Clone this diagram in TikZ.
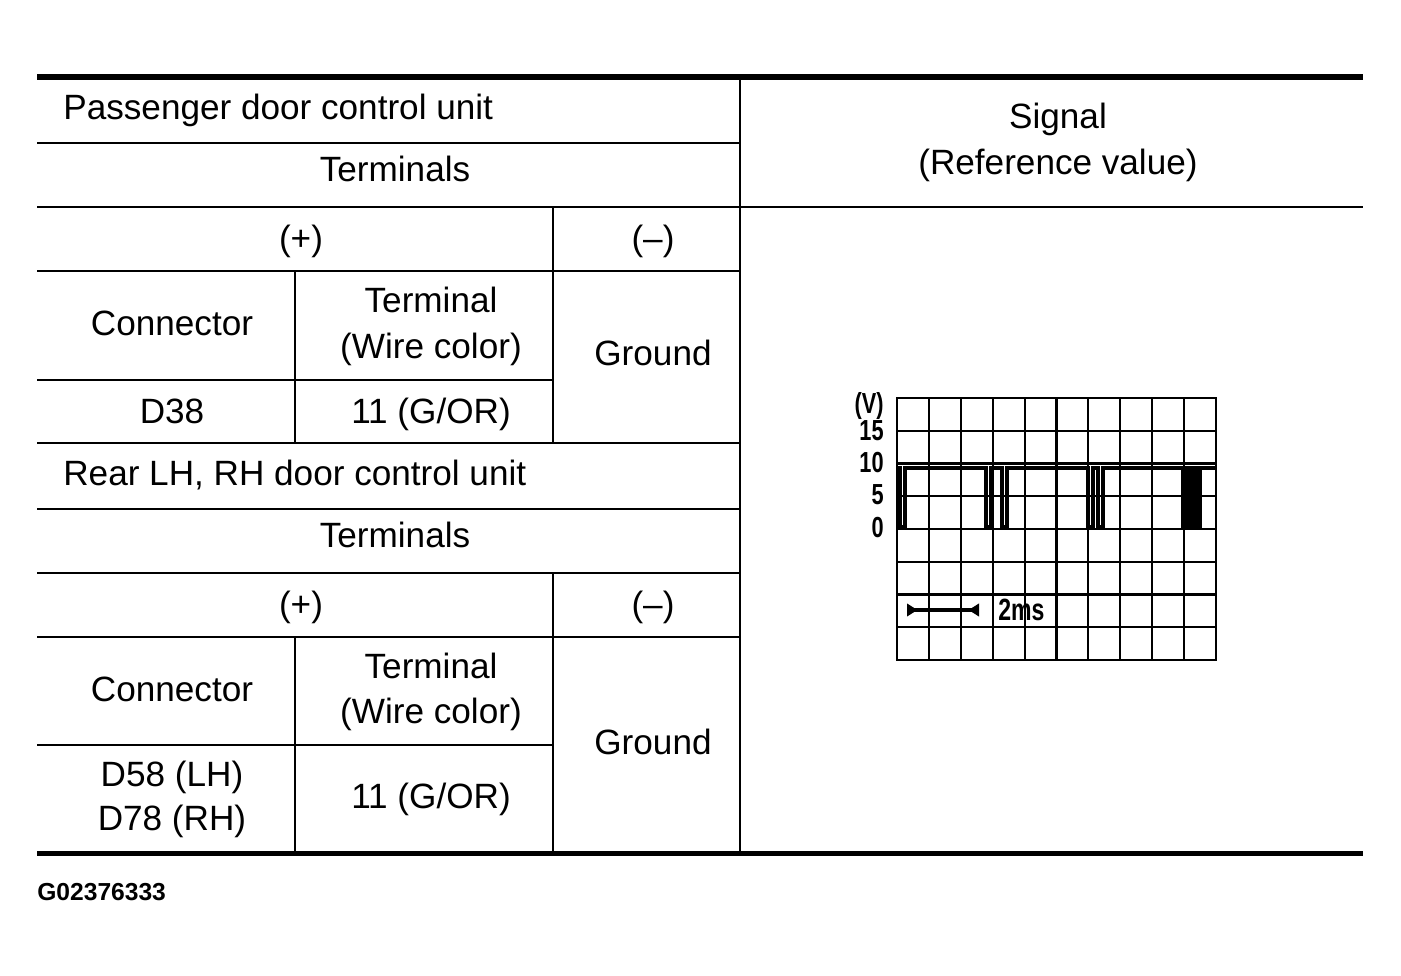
\documentclass[tikz,border=0pt]{standalone}
\usepackage{fontspec}
\setmainfont{Liberation Sans}
\newfontfamily\narrowsans[FakeStretch=0.75]{Liberation Sans Bold}
\usetikzlibrary{positioning}
\usetikzlibrary{arrows.meta}

\begin{document}
\begin{tikzpicture}
		[x=0.02cm, y=-0.02cm,
		cell/.style={font=\fontsize{20}{25}\selectfont, inner sep=0pt, text height=14.3pt, text depth=0pt},
		rule/.style={line width=1.15pt},
		heavy/.style={line width=3.2pt},
		gridline/.style={line width=1.15pt},
		volts/.style={font=\narrowsans\fontsize{16.5}{16.5}\selectfont, inner sep=0pt, text height=11.8pt, text depth=0pt, anchor=east},
		wave/.style={line width=1.8pt, line join=miter}]
		\useasboundingbox (0,0) rectangle (1401,976);

		\draw[heavy] (37,77) -- (1363,77);
		\draw[heavy] (37,853.5) -- (1363,853.5);
		\draw[rule] (37,207) -- (1363,207);
		\foreach \y in {143,271,443,509,573,637}
			\draw[rule] (37,\y) -- (740,\y);
		\foreach \y in {380,745}
			\draw[rule] (37,\y) -- (553,\y);
		\draw[rule] (740,77) -- (740,853.5);
		\draw[rule] (553,207) -- (553,443);
		\draw[rule] (553,573) -- (553,853.5);
		\draw[rule] (295,271) -- (295,443);
		\draw[rule] (295,637) -- (295,853.5);

		\node[cell, anchor=west] (pass) at (63,106.5) {Passenger door control unit};
		\node[cell] (term1) at (395,169) {Terminals};
		\node[cell] (plus1) at (301,238) {(+)};
		\node[cell] (minus1) at (653,238) {(–)};
		\node[cell] (conn1) at (172,323) {Connector};
		\node[cell] (termno1) at (431,300) {Terminal};
		\node[cell] (wire1) at (431,346) {(Wire color)};
		\node[cell] (gnd1) at (653,353) {Ground};
		\node[cell] (d38) at (172,411) {D38};
		\node[cell] (pin1) at (431,411) {11 (G/OR)};

		\node[cell, anchor=west] (rear) at (63,472.5) {Rear LH, RH door control unit};
		\node[cell] (term2) at (395,535) {Terminals};
		\node[cell] (plus2) at (301,604) {(+)};
		\node[cell] (minus2) at (653,604) {(–)};
		\node[cell] (conn2) at (172,689) {Connector};
		\node[cell] (termno2) at (431,666) {Terminal};
		\node[cell] (wire2) at (431,711) {(Wire color)};
		\node[cell] (gnd2) at (653,742) {Ground};
		\node[cell] (d58) at (172,774) {D58 (LH)};
		\node[cell] (d78) at (172,818) {D78 (RH)};
		\node[cell] (pin2) at (431,796) {11 (G/OR)};

		\node[cell] (signal) at (1058,115.5) {Signal};
		\node[cell] (refval) at (1058,161.5) {(Reference value)};

		\foreach \i in {1,...,9}
			\draw[gridline] ({897+31.9*\i},398) -- ({897+31.9*\i},660);
		\foreach \j in {1,...,7}
			\draw[gridline] (897,{398+32.75*\j}) -- (1216,{398+32.75*\j});
		\draw[line width=1.5pt] (897,398) rectangle (1216,660);

		\node[volts] (unit) at (884,403) {(V)};
		\node[volts] (v15) at (884,430) {15};
		\node[volts] (v10) at (884,462) {10};
		\node[volts] (v5) at (884,494) {5};
		\node[volts] (v0) at (884,527) {0};

		\draw[wave] (897,468) -- (900,468) -- (900,527) -- (905,527) -- (905,468)
			-- (986,468) -- (986,527) -- (991,527) -- (991,468)
			-- (1002,468) -- (1002,527) -- (1007,527) -- (1007,468)
			-- (1088,468) -- (1088,527) -- (1093,527) -- (1093,468)
			-- (1098,468) -- (1098,527) -- (1103,527) -- (1103,468)
			-- (1183,468) -- (1183,527) -- (1187,527) -- (1187,468)
			-- (1190,468) -- (1190,527) -- (1194,527) -- (1194,468)
			-- (1196,468) -- (1196,527) -- (1200,527) -- (1200,468) -- (1216,468);

		\coordinate (arrL) at (907,610);
		\coordinate (arrR) at (979,610);
		\draw[line width=1.8pt, {Triangle[reversed, length=6pt, width=7pt]}-{Triangle[reversed, length=6pt, width=7pt]}] (arrL) -- (arrR);
		\node[volts, anchor=west, font=\narrowsans\fontsize{17.5}{17.5}\selectfont, text height=12.5pt, right=10.8pt of arrR] (period) {2ms};

		\node[anchor=west, inner sep=0pt, font=\bfseries\fontsize{14}{16}\selectfont, text height=10pt, text depth=0pt] (figno) at (37,891.5) {G02376333};
	\end{tikzpicture}
\end{document}
